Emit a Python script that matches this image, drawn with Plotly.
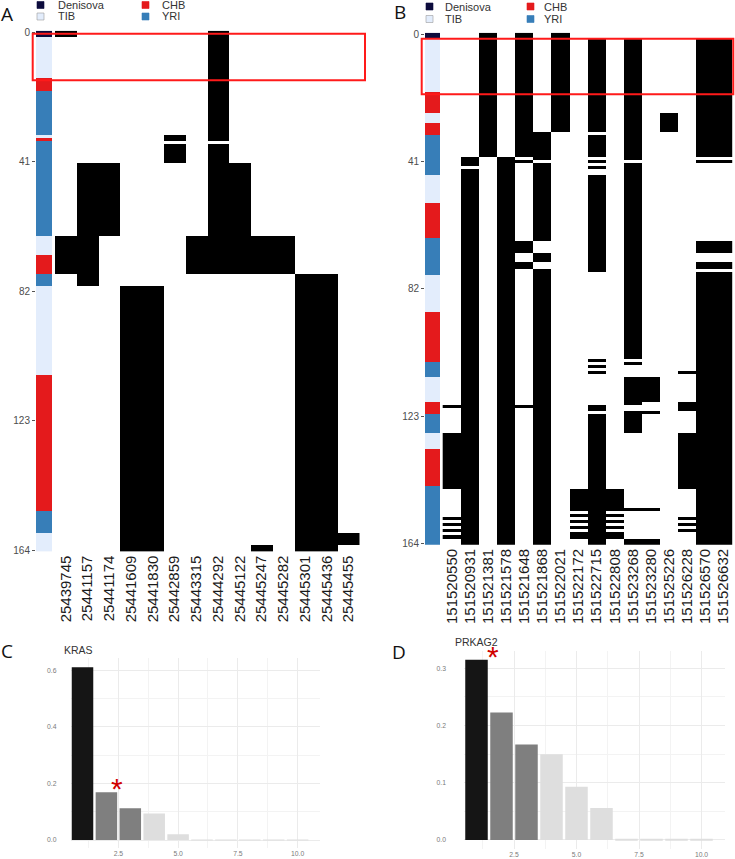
import plotly.graph_objects as go

W, H = 735, 859

# ---------------- data ----------------
POP_ORDER = ["Denisova", "TIB", "CHB", "YRI"]
POP_COLORS = ["#0c0b3c", "#e3edfc", "#e41a1c", "#377eb8"]
N_ROWS = 165
Y_TICKS = [0, 41, 82, 123, 164]

A_SNPS = ["25439745", "25441157", "25441174", "25441609", "25441830", "25442859",
          "25443315", "25444292", "25445122", "25445247", "25445282", "25445301",
          "25445436", "25445455"]
A_POP_RUNS = [("Denisova", 2), ("TIB", 13), ("CHB", 4), ("YRI", 14), ("TIB", 1),
              ("CHB", 1), ("YRI", 30), ("TIB", 6), ("CHB", 6), ("YRI", 4),
              ("TIB", 28), ("CHB", 43), ("YRI", 7), ("TIB", 6)]
# rows (inclusive) carrying the derived allele, one list per SNP
A_DERIVED = [
    [(0, 1), (65, 76)],
    [(42, 80)],
    [(42, 64)],
    [(81, 164)],
    [(81, 164)],
    [(33, 34), (36, 41)],
    [(65, 76)],
    [(0, 34), (36, 76)],
    [(42, 76)],
    [(65, 76), (163, 164)],
    [(65, 76)],
    [(77, 164)],
    [(77, 164)],
    [(159, 162)],
]

B_SNPS = ["151520550", "151520931", "151521381", "151521578", "151521648",
          "151521868", "151522021", "151522172", "151522715", "151522808",
          "151523268", "151523280", "151525226", "151526228", "151526570",
          "151526632"]
B_POP_RUNS = [("Denisova", 2), ("TIB", 17), ("CHB", 7), ("TIB", 3), ("CHB", 4),
              ("YRI", 13), ("TIB", 9), ("CHB", 11), ("YRI", 12), ("TIB", 12),
              ("CHB", 16), ("YRI", 5), ("TIB", 8), ("CHB", 4), ("YRI", 6),
              ("TIB", 5), ("CHB", 12), ("YRI", 19)]
B_DERIVED = [
    [(120, 120), (129, 146), (156, 156), (158, 158), (160, 160), (162, 162)],
    [(40, 42), (44, 164)],
    [(0, 39)],
    [(40, 164)],
    [(0, 39), (41, 41), (67, 70), (74, 75), (120, 120)],
    [(32, 40), (42, 66), (71, 73), (76, 164)],
    [(0, 31)],
    [(147, 153), (155, 155), (157, 157), (159, 159), (161, 162)],
    [(2, 31), (33, 39), (41, 41), (43, 43), (46, 76), (105, 105), (107, 107),
     (109, 109), (120, 121), (123, 164)],
    [(147, 153), (155, 155), (157, 157), (159, 159), (161, 162)],
    [(2, 40), (42, 104), (106, 106), (111, 119), (122, 128), (153, 153), (163, 164)],
    [(111, 118), (122, 122), (153, 153), (163, 164)],
    [(26, 31)],
    [(109, 109), (119, 121), (129, 146), (156, 156), (158, 158), (160, 160)],
    [(2, 39), (41, 41), (67, 70), (74, 75), (77, 164)],
    [(2, 39), (41, 41), (67, 70), (74, 75), (77, 164)],
]

BAR_X = [1, 2, 3, 4, 5, 6, 7, 8, 9, 10]
KRAS_FREQ = [0.611, 0.169, 0.112, 0.094, 0.020, 0.001, 0.001, 0.001, 0.001, 0.001]
KRAS_CLASS = [0, 1, 1, 2, 2, 2, 2, 2, 2, 2]
PRKAG2_FREQ = [0.315, 0.223, 0.167, 0.150, 0.093, 0.056, 0.001, 0.001, 0.001, 0.001]
PRKAG2_CLASS = [0, 1, 1, 2, 2, 2, 2, 2, 2, 2]
BAR_COLORS = ["#151515", "#7f7f7f", "#dedede"]
KRAS_STAR = (2.45, 0.19)
PRKAG2_STAR = (1.67, 0.325)


# ---------------- helpers ----------------
def px_x(p):
    return p / W


def px_y(p):
    return 1 - p / H


def pop_codes(runs):
    codes = []
    for name, n in runs:
        codes += [POP_ORDER.index(name)] * n
    return codes


def hap_matrix(derived):
    z = [[0] * len(derived) for _ in range(N_ROWS)]
    for j, ivs in enumerate(derived):
        for a, b in ivs:
            for r in range(a, b + 1):
                z[r][j] = 1
    return z


pop_scale = []
for i, c in enumerate(POP_COLORS):
    pop_scale += [[i / 4, c], [(i + 1) / 4, c]]

fig = go.Figure()
rows = list(range(N_ROWS))

# panel geometry in pixels
PANELS = [
    dict(snps=A_SNPS, runs=A_POP_RUNS, der=A_DERIVED, strip=(36, 52), col0=55,
         colw=21.75, top=30.7, rowh=3.157, xa="x", ya="y"),
    dict(snps=B_SNPS, runs=B_POP_RUNS, der=B_DERIVED, strip=(425, 440), col0=442.7,
         colw=18.1, top=32.75, rowh=3.104, xa="x2", ya="y2"),
]

layout_axes = {}
for k, P in enumerate(PANELS):
    n = len(P["snps"])
    sl = (P["strip"][0] - P["col0"]) / P["colw"]
    sr = (P["strip"][1] - P["col0"]) / P["colw"]
    fig.add_trace(go.Heatmap(
        x=[sl, sr], y=rows, z=[[c] for c in pop_codes(P["runs"])],
        colorscale=pop_scale, zmin=-0.5, zmax=3.5, showscale=False,
        hoverinfo="skip", xaxis=P["xa"], yaxis=P["ya"]))
    fig.add_trace(go.Heatmap(
        x=list(range(n + 1)), y=rows, z=hap_matrix(P["der"]),
        colorscale=[[0, "#ffffff"], [1, "#000000"]], zmin=0, zmax=1,
        showscale=False, hoverinfo="skip", xaxis=P["xa"], yaxis=P["ya"]))
    right = P["col0"] + n * P["colw"]
    bottom = P["top"] + N_ROWS * P["rowh"]
    sfx = "" if k == 0 else "2"
    layout_axes["xaxis" + sfx] = dict(
        domain=[px_x(P["strip"][0]), px_x(right)], range=[sl, n],
        anchor="y" + sfx, tickvals=[j + 0.5 for j in range(n)], ticktext=P["snps"],
        tickangle=-90, tickfont=dict(size=15, color="#1a1a1a", family="Liberation Sans"),
        showgrid=False, zeroline=False, ticks="", showline=False, automargin=False)
    layout_axes["yaxis" + sfx] = dict(
        domain=[px_y(bottom), px_y(P["top"])], range=[N_ROWS - 0.5, -0.5],
        anchor="x" + sfx, tickvals=Y_TICKS, ticks="outside", ticklen=3,
        tickcolor="#555555", tickwidth=1,
        tickfont=dict(size=10, color="#4d4d4d", family="Liberation Sans"),
        showgrid=False, zeroline=False, showline=False, automargin=False)

# bar panels
BARS = [
    dict(freq=KRAS_FREQ, cls=KRAS_CLASS, star=KRAS_STAR, title="KRAS",
         x0=58.6, ppx=23.9, y0=840, ppy=282.8, yr=[-0.03, 0.642],
         yt=[0, 0.2, 0.4, 0.6], ym=0.1, xa="x3", ya="y3", tpos=(62, 650),
         standoff=13, tsize=10.5),
    dict(freq=PRKAG2_FREQ, cls=PRKAG2_CLASS, star=PRKAG2_STAR, title="PRKAG2",
         x0=451.5, ppx=25.0, y0=840, ppy=572.0, yr=[-0.016, 0.331],
         yt=[0, 0.1, 0.2, 0.3], ym=0.05, xa="x4", ya="y4", tpos=(453, 642),
         standoff=17, tsize=10.5),
]
XR = [0.5, 10.95]
annotations = []
for k, Bp in enumerate(BARS):
    fig.add_trace(go.Bar(
        x=BAR_X, y=Bp["freq"], width=0.9,
        marker=dict(color=[BAR_COLORS[c] for c in Bp["cls"]], line=dict(width=0)),
        xaxis=Bp["xa"], yaxis=Bp["ya"], hoverinfo="skip", showlegend=False))
    sfx = Bp["xa"][1:]
    xl = Bp["x0"] + XR[0] * Bp["ppx"]
    xr = Bp["x0"] + XR[1] * Bp["ppx"]
    yb = Bp["y0"] - Bp["yr"][0] * Bp["ppy"]
    yt = Bp["y0"] - Bp["yr"][1] * Bp["ppy"]
    layout_axes["xaxis" + sfx] = dict(
        domain=[px_x(xl), px_x(xr)], range=XR, anchor="y" + sfx,
        tickvals=[2.5, 5, 7.5, 10], ticktext=["2.5", "5.0", "7.5", "10.0"],
        tickfont=dict(size=6.8, color="#7a7a7a", family="Liberation Sans"),
        showgrid=True, gridcolor="#ebebeb", gridwidth=1, zeroline=False, ticks="",
        minor=dict(tickvals=[1.25, 3.75, 6.25, 8.75], showgrid=True,
                   gridcolor="#f3f3f3", gridwidth=0.8),
        showline=False, automargin=False)
    layout_axes["yaxis" + sfx] = dict(
        domain=[px_y(yb), px_y(yt)], range=Bp["yr"], anchor="x" + sfx,
        tickvals=Bp["yt"], ticktext=["%.1f" % v for v in Bp["yt"]],
        tickfont=dict(size=6.8, color="#7a7a7a", family="Liberation Sans"),
        ticklabelstandoff=Bp["standoff"],
        showgrid=True, gridcolor="#ebebeb", gridwidth=1, zeroline=False, ticks="",
        minor=dict(tickvals=[Bp["ym"] * (2 * i + 1) for i in range(4)
                             if Bp["ym"] * (2 * i + 1) < Bp["yr"][1]],
                   showgrid=True, gridcolor="#f3f3f3", gridwidth=0.8),
        showline=False, automargin=False)
    annotations.append(dict(
        x=Bp["star"][0], y=Bp["star"][1], xref=Bp["xa"], yref=Bp["ya"], text="*",
        showarrow=False, font=dict(size=30, color="#d00000", family="Liberation Sans"),
        yshift=-2))
    annotations.append(dict(
        x=px_x(Bp["tpos"][0]), y=px_y(Bp["tpos"][1]), xref="paper", yref="paper",
        xanchor="left", yanchor="middle", text=Bp["title"], showarrow=False,
        font=dict(size=Bp["tsize"], color="#333333", family="Liberation Sans")))

# panel letters
for lab, (lx, ly) in zip("ABCD", [(7, 14), (400, 12), (7, 651), (399, 652)]):
    annotations.append(dict(x=px_x(lx), y=px_y(ly), xref="paper", yref="paper",
                            text=lab, showarrow=False, xanchor="center",
                            yanchor="middle",
                            font=dict(size=19, color="#111111", family="Open Sans")))

# population legends (keys + labels)
shapes = []
LEGEND_POS = [
    [(37, 5, 56), (37, 16.5, 56), (142, 5, 160), (142, 16.5, 160)],
    [(426, 6.5, 443), (426, 19, 443), (527, 6.5, 542), (527, 19, 542)],
]
for pos in LEGEND_POS:
    for name, (kx, ky, tx) in zip(POP_ORDER, pos):
        col = POP_COLORS[POP_ORDER.index(name)]
        shapes.append(dict(type="rect", xref="paper", yref="paper",
                           x0=px_x(kx), x1=px_x(kx + 7), y0=px_y(ky - 3.5),
                           y1=px_y(ky + 3.5), fillcolor=col,
                           line=dict(color="#9a9a9a" if name == "TIB" else col,
                                     width=0.6)))
        annotations.append(dict(x=px_x(tx), y=px_y(ky), xref="paper", yref="paper",
                                text=name, showarrow=False, xanchor="left",
                                yanchor="middle",
                                font=dict(size=11, color="#333333",
                                          family="Liberation Sans")))

# red highlight boxes around the Tibetan haplotypes
BOXES = [(32.7, 33.7, 365, 80.3), (421.7, 38.7, 733.3, 94.3)]
for x0, y0, x1, y1 in BOXES:
    shapes.append(dict(type="rect", xref="paper", yref="paper",
                       x0=px_x(x0), x1=px_x(x1), y0=px_y(y1), y1=px_y(y0),
                       line=dict(color="#ff1a1a", width=2), fillcolor="rgba(0,0,0,0)"))

fig.update_layout(
    width=W, height=H, autosize=False,
    margin=dict(l=0, r=0, t=0, b=0, autoexpand=False),
    paper_bgcolor="white", plot_bgcolor="white",
    showlegend=False, barmode="overlay",
    annotations=annotations, shapes=shapes,
    font=dict(family="Liberation Sans"),
    **layout_axes)

fig.write_html(
    "out.html",
    config={"displayModeBar": False},
    post_script="document.body.style.margin='0';document.body.style.overflow='hidden';",
)
